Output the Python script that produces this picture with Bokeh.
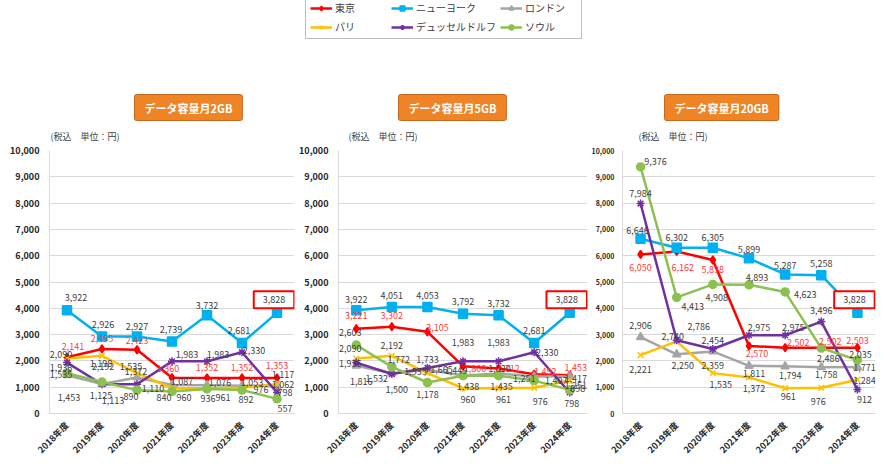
from bokeh.plotting import figure
from bokeh.models import (ColumnDataSource, FactorRange, Range1d, NumeralTickFormatter,
                          FixedTicker, Title, Legend, LegendItem, LabelSet)
from bokeh.layouts import column, row
from bokeh.embed import file_html
from bokeh.resources import INLINE
from bokeh.core.properties import value
import math

FONT = "Noto Sans CJK JP"

years = ["2018年度", "2019年度", "2020年度", "2021年度", "2022年度", "2023年度", "2024年度"]
cities = ["東京", "ニューヨーク", "ロンドン", "パリ", "デュッセルドルフ", "ソウル"]
y_ticks = [0, 1000, 2000, 3000, 4000, 5000, 6000, 7000, 8000, 9000, 10000]

# データ容量月2GB
tokyo_2gb = [2141, 2455, 2423, 1360, 1352, 1352, 1353]
newyork_2gb = [3922, 2926, 2927, 2739, 3732, 2681, 3828]
london_2gb = [1453, 1125, 1372, 1087, 1076, 1053, 1062]
paris_2gb = [2090, 2192, 1535, 960, 961, 976, 1117]
dusseldorf_2gb = [1936, 1113, 1110, 1983, 1983, 2330, 798]
seoul_2gb = [1535, 1198, 890, 840, 936, 892, 557]

# データ容量月5GB
tokyo_5gb = [3221, 3302, 3105, 1800, 1712, 1492, 1453]
newyork_5gb = [3922, 4051, 4053, 3792, 3732, 2681, 3828]
london_5gb = [1816, 1532, 1665, 1449, 1520, 1407, 1417]
paris_5gb = [2090, 2192, 1535, 960, 961, 976, 1251]
dusseldorf_5gb = [1936, 1500, 1733, 1983, 1983, 2330, 798]
seoul_5gb = [2603, 1772, 1178, 1438, 1435, 1251, 898]

# データ容量月20GB
tokyo_20gb = [6050, 6162, 5838, 2570, 2502, 2502, 2503]
newyork_20gb = [6646, 6302, 6305, 5899, 5287, 5258, 3828]
london_20gb = [2906, 2250, 2359, 1811, 1794, 1758, 1771]
paris_20gb = [2221, 2740, 1535, 1372, 961, 976, 1284]
dusseldorf_20gb = [7984, 2786, 2454, 2975, 2975, 3496, 912]
seoul_20gb = [9376, 4413, 4908, 4893, 4623, 2486, 2035]

# styles
colors = ["#FF0000", "#00B0F0", "#A5A5A5", "#FFC000", "#7030A0", "#8CC04F"]
markers = ["diamond", "square", "triangle", "x", "asterisk", "circle"]
msizes = [8, 9, 8, 8, 8, 8]
label_colors = ["#FF3B3B", "#404040", "#404040", "#404040", "#404040", "#404040"]

# data-label pixel offsets (dx, dy; dy > 0 = downward), per panel, per series
offs_2gb = [
    [(6, -11), (0, -10), (0, -9), (-4, -9), (0, -10), (0, -10), (0, -12)],
    [(9, -13), (1, -12), (0, -10), (-1, -12), (0, -10), (-3, -12), (-3, -13)],
    [(2, 22), (-1, 12), (-1, -6), (10, -3), (13, -3), (10, -3), (6, -1)],
    [(-6, -4), (1, 11), (-6, -7), (12, 9), (16, 9), (19, 2), (6, -10)],
    [(-6, 5), (11, 16), (16, 4), (15, -7), (11, -7), (12, -2), (8, 0)],
    [(-6, 1), (-1, -18), (-6, 6), (-8, 6), (1, 10), (4, 9), (8, 10)],
]
offs_5gb = [
    [(0, -13), (0, -11), (10, -4), (12, 2), (10, 0), (11, -3), (6, -8)],
    [(0, -11), (0, -11), (0, -11), (0, -12), (0, -12), (0, -12), (-3, -13)],
    [(5, 16), (-15, 5), (14, 0), (-7, -5), (1, -5), (22, 4), (6, 2)],
    [(-6, -10), (0, -10), (-12, -2), (5, 11), (5, 11), (6, 14), (6, 5)],
    [(-6, 1), (5, 15), (0, -8), (0, -19), (0, -19), (13, 0), (2, 11)],
    [(-6, -13), (7, -7), (0, 12), (5, 11), (3, 11), (-10, -2), (8, -1)],
]
offs_20gb = [
    [(0, 13), (6, 16), (0, 10), (8, 8), (13, -5), (9, -6), (0, -7)],
    [(-3, -8), (0, -10), (0, -10), (0, -9), (0, -9), (0, -12), (-3, -13)],
    [(0, -12), (6, 11), (0, 14), (5, 8), (5, 9), (5, 7), (7, 1)],
    [(0, 14), (-4, -5), (8, 11), (5, 11), (3, 8), (-3, 14), (7, 1)],
    [(0, -10), (22, -14), (0, -8), (10, -8), (8, -8), (0, -11), (7, 10)],
    [(15, -5), (16, 9), (4, 13), (8, -7), (20, 3), (7, 10), (3, -5)],
]


def make_panel(title_text, series, offs, width, height, ml, mr, mt, mb,
               tick_size, title_offset, unit_offset):
    p = figure(width=width, height=height, x_range=FactorRange(*years),
               y_range=Range1d(0, 10000), toolbar_location=None,
               output_backend="svg", min_border_left=ml, min_border_right=mr,
               min_border_top=mt, min_border_bottom=mb)
    p.outline_line_color = None
    p.xgrid.visible = False
    p.ygrid.grid_line_color = "#D9D9D9"
    p.ygrid.grid_line_width = 1
    p.yaxis.ticker = FixedTicker(ticks=y_ticks)
    p.yaxis.formatter = NumeralTickFormatter(format="0,0")
    for ax in (p.xaxis, p.yaxis):
        ax.axis_line_color = "#D9D9D9"
        ax.major_tick_line_color = None
        ax.minor_tick_line_color = None
        ax.major_label_text_font = FONT
        ax.major_label_text_font_style = "bold"
        ax.major_label_text_color = "#262626"
    p.yaxis.major_label_text_font_size = tick_size
    p.yaxis.major_label_standoff = 4 if tick_size == "9px" else 2
    p.xaxis.major_label_text_font_size = "9px"
    p.xaxis.major_label_orientation = math.pi / 4
    p.xaxis.major_label_standoff = 4

    for i, vals in enumerate(series):
        src = ColumnDataSource(dict(x=years, y=vals))
        p.line("x", "y", source=src, line_color=colors[i], line_width=2.5)
        p.scatter("x", "y", source=src, marker=markers[i], size=msizes[i],
                  fill_color=colors[i], line_color=colors[i], line_width=1.5)
    for i, vals in enumerate(series):
        n = len(vals) - 1 if i == 1 else len(vals)
        lsrc = ColumnDataSource(dict(
            x=years[:n], y=vals[:n], lbl=[f"{v:,}" for v in vals[:n]],
            dx=[o[0] for o in offs[i][:n]], dy=[-o[1] for o in offs[i][:n]]))
        p.add_layout(LabelSet(x="x", y="y", text="lbl", source=lsrc,
                              x_offset="dx", y_offset="dy",
                              text_align="center", text_baseline="middle",
                              text_font=value(FONT), text_font_size="9px",
                              text_color=label_colors[i]))
    # boxed last New York value
    bsrc = ColumnDataSource(dict(x=years[-1:], y=series[1][-1:],
                                 lbl=[f"{series[1][-1]:,}"],
                                 dx=[offs[1][-1][0]], dy=[-offs[1][-1][1]]))
    try:
        box = LabelSet(x="x", y="y", text="lbl", source=bsrc, x_offset="dx",
                       y_offset="dy", text_align="center", text_baseline="middle",
                       text_font=value(FONT), text_font_size="9px",
                       text_color="#404040", border_line_color="#FF0000",
                       border_line_width=2, background_fill_color="white",
                       padding=(9, 5))
        p.add_layout(box)
    except Exception:
        p.text("x", "y", text="lbl", source=bsrc, x_offset="dx",
               y_offset=offs[1][-1][1], text_align="center", text_baseline="middle",
               text_font=value(FONT), text_font_size="9px", text_color="#404040",
               border_line_color="#FF0000", border_line_width=2,
               background_fill_color="white", padding=(9, 5))

    t_unit = Title(text="(税込　単位：円)", align="left", offset=unit_offset,
                   text_font=FONT, text_font_size="9px", text_font_style="normal",
                   text_color="#404040", standoff=15)
    t_main = Title(text=title_text, align="left", offset=title_offset,
                   text_font=FONT, text_font_size="11px", text_font_style="bold",
                   text_color="white", background_fill_color="#EF8426",
                   border_line_color="#C8661A", border_line_width=1,
                   padding=(10, 5), border_radius=2, standoff=0)
    p.add_layout(t_unit, "above")
    p.add_layout(t_main, "above")
    return p


p1 = make_panel("データ容量月2GB",
                [tokyo_2gb, newyork_2gb, london_2gb, paris_2gb, dusseldorf_2gb, seoul_2gb],
                offs_2gb, 296, 378, 49, 2, 53, 57, "9px", 85, 1)
p2 = make_panel("データ容量月5GB",
                [tokyo_5gb, newyork_5gb, london_5gb, paris_5gb, dusseldorf_5gb, seoul_5gb],
                offs_5gb, 292, 378, 34, 1, 53, 57, "9px", 60, 10)
p3 = make_panel("データ容量月20GB",
                [tokyo_20gb, newyork_20gb, london_20gb, paris_20gb, dusseldorf_20gb, seoul_20gb],
                offs_20gb, 293, 378, 24, 6, 54, 52, "7px", 42, 16)

# legend figure
lf = figure(width=881, height=92, toolbar_location=None, output_backend="svg",
            min_border=0, x_range=Range1d(0, 1), y_range=Range1d(0, 1))
lf.axis.visible = False
lf.grid.visible = False
lf.outline_line_color = None
items = []
for i, c in enumerate(cities):
    r1 = lf.line(x=[-5, -4], y=[-5, -4], line_color=colors[i], line_width=2.5)
    r2 = lf.scatter(x=[-5], y=[-5], marker=markers[i], size=7, fill_color=colors[i],
                    line_color=colors[i], line_width=1.5)
    items.append(LegendItem(label=c, renderers=[r1, r2]))
legend = Legend(items=items, location=(305, 53), orientation="horizontal", ncols=3,
                label_text_font=FONT, label_text_font_size="10px",
                label_text_color="#404040", border_line_color="#7F7F7F",
                border_line_width=1, glyph_width=22, glyph_height=12,
                label_standoff=3, label_width=52, spacing=4, padding=4, margin=0,
                label_height=12)
lf.add_layout(legend)

layout = column(lf, row(p1, p2, p3))
open("out.html", "w").write(file_html(layout, INLINE))
